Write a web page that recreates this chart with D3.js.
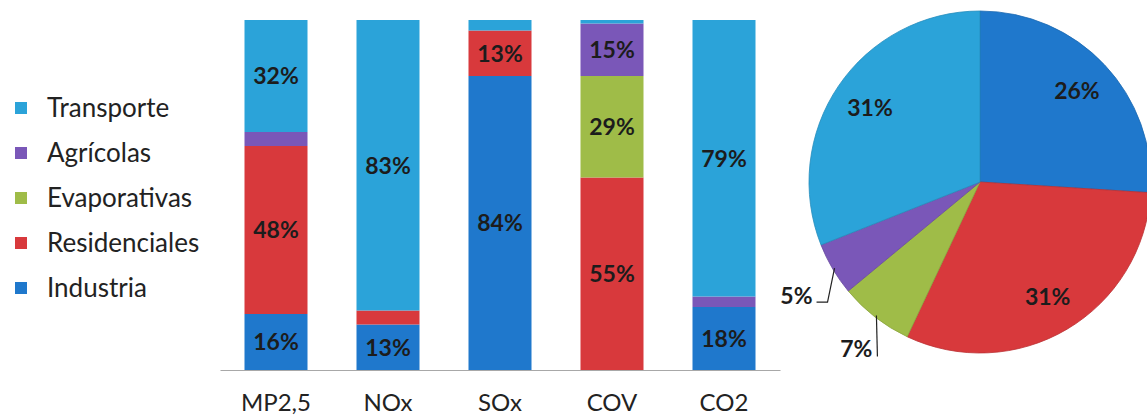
<!DOCTYPE html>
<html>
<head>
<meta charset="utf-8">
<script src="https://cdn.jsdelivr.net/npm/d3@7"></script>
<style>
  html, body { margin: 0; padding: 0; background: #ffffff; }
  svg { display: block; }
</style>
</head>
<body>
<svg id="chart" width="1147" height="415"></svg>
<script>
// ---- data ----
const categories = ["MP2,5", "NOx", "SOx", "COV", "CO2"];
const seriesNames = ["Industria", "Residenciales", "Evaporativas", "Agrícolas", "Transporte"]; // stack bottom -> top
const industria     = [16, 13, 84,  0, 18];
const residenciales = [48,  4, 13, 55,  0];
const evaporativas  = [ 0,  0,  0, 29,  0];
const agricolas     = [ 4,  0,  0, 15,  3];
const transporte    = [32, 83,  3,  1, 79];
const legendOrder = ["Transporte", "Agrícolas", "Evaporativas", "Residenciales", "Industria"];
const pieNames  = ["Industria", "Residenciales", "Evaporativas", "Agrícolas", "Transporte"];
const pieValues = [26, 31, 7, 5, 31];

const colors = {
  "Transporte": "#2ba3d9",
  "Agrícolas": "#7a57b8",
  "Evaporativas": "#9fbc48",
  "Residenciales": "#d8393c",
  "Industria": "#1f78cc"
};

const svg = d3.select("#chart");
const font = "Lato, 'Open Sans', sans-serif";
const textColor = "#1c1c1c";

// ---- stacked bars ----
const seriesVals = [industria, residenciales, evaporativas, agricolas, transporte];
const rows = categories.map((c, i) => {
  const r = { cat: c };
  seriesNames.forEach((s, k) => r[s] = seriesVals[k][i]);
  return r;
});
const stack = d3.stack().keys(seriesNames)(rows);

const x = d3.scaleBand().domain(categories).range([220, 780]).paddingInner(0.4375).paddingOuter(0.21875);
const y = d3.scaleLinear().domain([0, 100]).range([370, 20]);

const layers = svg.append("g").selectAll("g").data(stack).join("g")
  .attr("fill", d => colors[d.key]);
layers.selectAll("rect").data(d => d).join("rect")
  .attr("x", d => x(d.data.cat))
  .attr("width", x.bandwidth())
  .attr("y", d => y(d[1]))
  .attr("height", d => Math.max(0, y(d[0]) - y(d[1])));

// bar labels
layers.selectAll("text").data(d => d.filter(v => v[1] - v[0] >= 10)).join("text")
  .attr("x", d => x(d.data.cat) + x.bandwidth() / 2)
  .attr("y", d => y((d[0] + d[1]) / 2))
  .attr("dy", "0.36em")
  .attr("text-anchor", "middle")
  .attr("font-family", font)
  .attr("font-weight", "bold")
  .attr("font-size", 23)
  .attr("fill", textColor)
  .text(d => (d[1] - d[0]) + "%");

// axis
const axis = svg.append("g").attr("transform", "translate(0,370)")
  .call(d3.axisBottom(x).tickSize(0).tickPadding(24).tickSizeOuter(0));
axis.select(".domain").attr("stroke", "#a8a8a8").attr("stroke-width", 1.2);
axis.selectAll("text").attr("font-family", font).attr("font-size", 24).attr("fill", "#222");

// ---- legend ----
const legend = svg.append("g");
legendOrder.forEach((name, i) => {
  const cy = 108 + i * 45;
  legend.append("rect").attr("x", 15).attr("y", cy - 6).attr("width", 12).attr("height", 12)
    .attr("fill", colors[name]);
  legend.append("text").attr("x", 47).attr("y", cy).attr("dy", "0.35em")
    .attr("font-family", font).attr("font-size", 26).attr("fill", "#222").text(name);
});

// ---- pie ----
const cx = 980, cy = 182, R = 171;
const pieData = pieNames.map((n, i) => ({ name: n, value: pieValues[i] }));
const arcs = d3.pie().sort(null).value(d => d.value)(pieData);
const arc = d3.arc().innerRadius(0).outerRadius(R);
const labelArc = d3.arc().innerRadius(133).outerRadius(133);
const edgeArc = d3.arc().innerRadius(R - 2).outerRadius(R - 2);

const pg = svg.append("g").attr("transform", `translate(${cx},${cy})`);
pg.selectAll("path").data(arcs).join("path")
  .attr("d", arc)
  .attr("fill", d => colors[d.data.name])
  .attr("stroke", d => d3.color(colors[d.data.name]).darker(0.4))
  .attr("stroke-width", 0.8);

// inside labels
pg.selectAll("text.in").data(arcs.filter(d => d.data.value >= 10)).join("text")
  .attr("class", "in")
  .attr("transform", d => `translate(${labelArc.centroid(d)})`)
  .attr("dy", "0.36em")
  .attr("text-anchor", "middle")
  .attr("font-family", font).attr("font-weight", "bold").attr("font-size", 23)
  .attr("fill", textColor)
  .text(d => d.data.value + "%");

// outside labels with leader lines
const small = arcs.filter(d => d.data.value < 10);
small.forEach(d => {
  const [ex, ey] = edgeArc.centroid(d);
  let pts, tx, ty, anchor;
  if (d.data.name === "Agrícolas") {
    pts = [[ex, ey], [ex - 7, ey + 34], [ex - 18, ey + 34]];
    tx = ex - 22; ty = ey + 28; anchor = "end";
  } else {
    pts = [[ex, ey], [ex + 1, ey + 41]];
    tx = ex - 4; ty = ey + 33; anchor = "end";
  }
  pg.append("path").attr("d", d3.line()(pts)).attr("fill", "none")
    .attr("stroke", "#222").attr("stroke-width", 1.2);
  pg.append("text").attr("x", tx).attr("y", ty).attr("dy", "0.36em")
    .attr("text-anchor", anchor)
    .attr("font-family", font).attr("font-weight", "bold").attr("font-size", 23)
    .attr("fill", textColor).text(d.data.value + "%");
});
</script>
</body>
</html>
